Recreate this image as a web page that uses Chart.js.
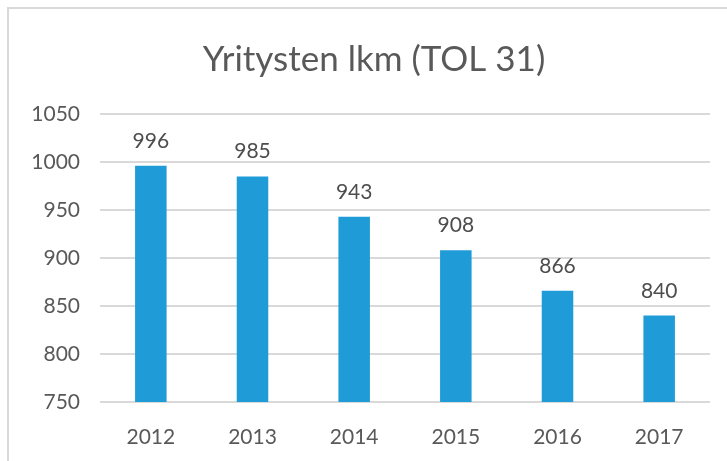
<!DOCTYPE html>
<html>
<head>
<meta charset="utf-8">
<script src="https://cdn.jsdelivr.net/npm/chart.js@4"></script>
<style>
  html, body { margin: 0; padding: 0; background: #fff; }
  #wrap { position: relative; width: 727px; height: 461px; overflow: hidden; }
  #frame { position: absolute; left: 7px; top: 7px; width: 740px; height: 480px;
           border-left: 2px solid #d9d9d9; border-top: 2px solid #d9d9d9; }
  canvas { position: absolute; left: 0; top: 0; }
</style>
</head>
<body>
<div id="wrap">
  <div id="frame"></div>
  <canvas id="chart" width="727" height="461"></canvas>
</div>
<script>
const years = ['2012', '2013', '2014', '2015', '2016', '2017'];
const companies = [996, 985, 943, 908, 866, 840];
const yTicks = [750, 800, 850, 900, 950, 1000, 1050];
const chartTitle = 'Yritysten lkm (TOL 31)';

const barColor = '#1f9bd8';
const textColor = '#595959';
const fontFamily = 'Lato, "Open Sans", sans-serif';

// numbers above the bars + the title (centred over the frame, not the canvas)
const valueLabels = {
  id: 'valueLabels',
  afterDatasetsDraw(chart) {
    const ctx = chart.ctx;
    const meta = chart.getDatasetMeta(0);
    ctx.save();
    ctx.font = '21px ' + fontFamily;
    ctx.fillStyle = '#4d4d4d';
    ctx.textAlign = 'center';
    ctx.textBaseline = 'alphabetic';
    meta.data.forEach((bar, i) => {
      ctx.fillText(String(companies[i]), bar.x, bar.y - 18);
    });

    ctx.font = '35px ' + fontFamily;
    ctx.fillStyle = textColor;
    ctx.textBaseline = 'middle';
    ctx.fillText(chartTitle, 374, 60);
    ctx.restore();
  }
};

new Chart(document.getElementById('chart'), {
  type: 'bar',
  data: {
    labels: years,
    datasets: [{
      data: companies,
      backgroundColor: barColor,
      borderWidth: 0,
      categoryPercentage: 1,
      barPercentage: 0.31,
    }],
  },
  options: {
    responsive: false,
    animation: false,
    layout: { padding: { left: 0, right: 17, top: 114, bottom: 15 } },
    plugins: {
      legend: { display: false },
      tooltip: { enabled: false },
      title: { display: false },
    },
    scales: {
      x: {
        afterFit(scale) { scale.height = 44; },
        grid: { display: false, drawTicks: false },
        border: { display: false },
        ticks: {
          color: textColor,
          padding: 23,
          font: { family: fontFamily, size: 21 },
        },
      },
      y: {
        min: 750,
        max: 1050,
        afterFit(scale) { scale.width = 100; },
        afterBuildTicks(scale) { scale.ticks = yTicks.map(v => ({ value: v })); },
        grid: { color: '#d9d9d9', lineWidth: 2, drawTicks: false },
        border: { display: false },
        ticks: {
          color: textColor,
          padding: 20,
          font: { family: fontFamily, size: 21 },
          callback: (v) => String(v),
        },
      },
    },
  },
  plugins: [valueLabels],
});
</script>
</body>
</html>
